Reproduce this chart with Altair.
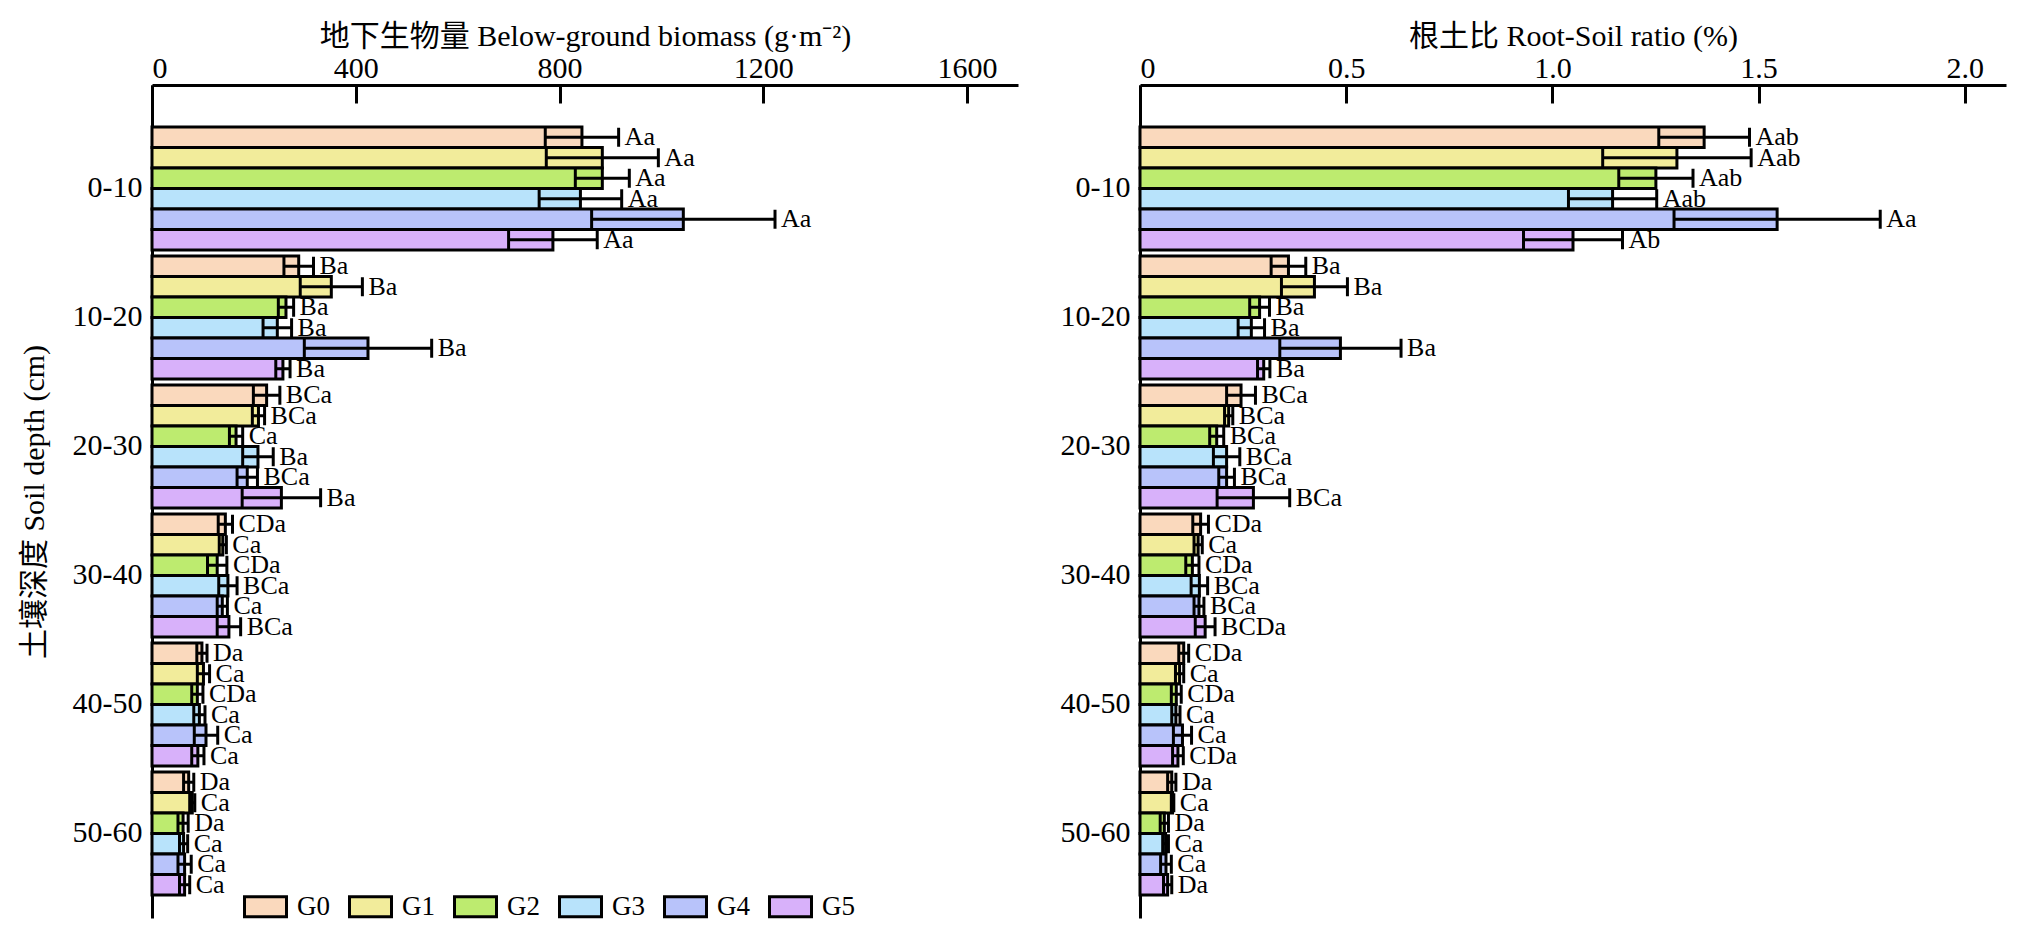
import altair as alt
import pandas as pd

depths = ["0-10", "10-20", "20-30", "30-40", "40-50", "50-60"]
groups = ["G0", "G1", "G2", "G3", "G4", "G5"]
colors = ["#FAD9BD", "#F2EC9B", "#BDEB6F", "#B8E3FB", "#B8C3FA", "#D8B1FA"]

# below-ground biomass (g/m2), one row per depth, one value per group
biomass_mean = [
    [844, 884, 884, 841, 1043, 787],
    [288, 352, 263, 246, 424, 257],
    [225, 209, 165, 208, 187, 254],
    [144, 139, 128, 149, 138, 151],
    [98, 101, 89, 93, 106, 90],
    [72, 79, 61, 62, 64, 64],
]
biomass_se = [
    [72, 110, 53, 81, 180, 87],
    [29, 61, 15, 28, 125, 14],
    [26, 12, 13, 30, 20, 77],
    [14, 7, 19, 18, 10, 23],
    [10, 12, 11, 11, 23, 12],
    [10, 5, 10, 8, 13, 10],
]
biomass_labels = [
    ["Aa", "Aa", "Aa", "Aa", "Aa", "Aa"],
    ["Ba", "Ba", "Ba", "Ba", "Ba", "Ba"],
    ["BCa", "BCa", "Ca", "Ba", "BCa", "Ba"],
    ["CDa", "Ca", "CDa", "BCa", "Ca", "BCa"],
    ["Da", "Ca", "CDa", "Ca", "Ca", "Ca"],
    ["Da", "Ca", "Da", "Ca", "Ca", "Ca"],
]

# root-soil ratio (%)
ratio_mean = [
    [1.368, 1.302, 1.251, 1.146, 1.545, 1.050],
    [0.360, 0.423, 0.290, 0.270, 0.486, 0.300],
    [0.245, 0.215, 0.186, 0.210, 0.210, 0.275],
    [0.147, 0.141, 0.127, 0.144, 0.143, 0.158],
    [0.106, 0.096, 0.088, 0.087, 0.103, 0.092],
    [0.077, 0.079, 0.059, 0.062, 0.063, 0.067],
]
ratio_se = [
    [0.110, 0.180, 0.090, 0.107, 0.250, 0.120],
    [0.042, 0.080, 0.024, 0.032, 0.147, 0.015],
    [0.035, 0.010, 0.017, 0.032, 0.019, 0.088],
    [0.019, 0.010, 0.016, 0.020, 0.012, 0.024],
    [0.012, 0.010, 0.012, 0.010, 0.022, 0.013],
    [0.010, 0.003, 0.010, 0.007, 0.013, 0.010],
]
ratio_labels = [
    ["Aab", "Aab", "Aab", "Aab", "Aa", "Ab"],
    ["Ba", "Ba", "Ba", "Ba", "Ba", "Ba"],
    ["BCa", "BCa", "BCa", "BCa", "BCa", "BCa"],
    ["CDa", "Ca", "CDa", "BCa", "BCa", "BCDa"],
    ["CDa", "Ca", "CDa", "Ca", "Ca", "CDa"],
    ["Da", "Ca", "Da", "Ca", "Ca", "Da"],
]

FONT = "Liberation Serif, Times New Roman, Noto Sans CJK SC"
W, H = 866, 833


def make_frame(means, ses, labels):
    rows = []
    for i, d in enumerate(depths):
        for j, g in enumerate(groups):
            m, s = means[i][j], ses[i][j]
            rows.append({"depth": d, "group": g, "mean": m, "lo": m - s, "hi": m + s, "label": labels[i][j]})
    return pd.DataFrame(rows)


def panel(data, x_title, domain, tick_values, label_expr, y_title, show_legend):
    y_enc = alt.Y(
        "depth:N",
        sort=depths,
        scale=alt.Scale(paddingInner=0.0465, paddingOuter=0.252, align=0.646),
        axis=alt.Axis(
            title=y_title,
            ticks=False,
            labelPadding=10,
            labelFontSize=30,
            titleFontSize=30,
            titleFontWeight="normal",
            titlePadding=23,
            domainColor="black",
            domainWidth=3,
            labelColor="black",
            titleColor="black",
        ),
    )
    y_off = alt.YOffset("group:N", sort=groups, scale=alt.Scale(paddingInner=0, paddingOuter=0))
    x_scale = alt.Scale(domain=domain, nice=False, zero=True)
    # top axis: labels and line only
    x_axis = alt.Axis(
        title=x_title,
        orient="top",
        values=tick_values,
        labelExpr=label_expr,
        ticks=False,
        grid=False,
        labelPadding=2,
        labelFontSize=30,
        titleFontSize=30,
        titleFontWeight="normal",
        titlePadding=2,
        domainColor="black",
        domainWidth=3,
        labelColor="black",
        titleColor="black",
    )
    # inward ticks: a bottom axis pulled up to the top edge
    tick_axis = alt.Axis(
        orient="bottom",
        offset=-H,
        values=tick_values,
        title=None,
        labels=False,
        domain=False,
        grid=False,
        ticks=True,
        tickSize=18,
        tickWidth=3,
        tickColor="black",
    )
    base = alt.Chart(data).encode(y=y_enc, yOffset=y_off)

    legend = None
    if show_legend:
        legend = alt.Legend(
            title=None,
            orient="none",
            legendX=91,
            legendY=799,
            direction="horizontal",
            symbolType="M-1,-0.476H1V0.476H-1Z",
            symbolSize=1764,
            symbolStrokeColor="black",
            symbolStrokeWidth=3,
            symbolOpacity=1,
            labelFontSize=27,
            labelColor="black",
            labelOffset=9,
            columnPadding=13,
        )

    bars = base.mark_bar(stroke="black", strokeWidth=3).encode(
        x=alt.X("mean:Q", stack=None, scale=x_scale, axis=x_axis),
        fill=alt.Fill("group:N", sort=groups, scale=alt.Scale(domain=groups, range=colors), legend=legend),
    )
    rule = base.mark_rule(color="black", strokeWidth=3).encode(
        x=alt.X("lo:Q", scale=x_scale, axis=None), x2="hi:Q"
    )
    lo_tick = base.mark_tick(color="black", size=19, thickness=3, opacity=1).encode(
        x=alt.X("lo:Q", scale=x_scale, axis=tick_axis)
    )
    hi_tick = base.mark_tick(color="black", size=19, thickness=3, opacity=1).encode(
        x=alt.X("hi:Q", scale=x_scale, axis=None)
    )
    text = base.mark_text(align="left", baseline="middle", dx=6, fontSize=26, color="black").encode(
        x=alt.X("hi:Q", scale=x_scale, axis=None), text="label:N"
    )
    return (
        alt.layer(bars, rule, lo_tick, hi_tick, text)
        .resolve_axis(x="independent")
        .properties(width=W, height=H)
    )


biomass_df = make_frame(biomass_mean, biomass_se, biomass_labels)
ratio_df = make_frame(ratio_mean, ratio_se, ratio_labels)

left = panel(
    biomass_df,
    "地下生物量 Below-ground biomass (g·m⁻²)",
    [0, 1700],
    [0, 400, 800, 1200, 1600],
    "format(datum.value, 'd')",
    "土壤深度 Soil depth (cm)",
    True,
)
right = panel(
    ratio_df,
    "根土比 Root-Soil ratio (%)",
    [0, 2.1],
    [0, 0.5, 1.0, 1.5, 2.0],
    "datum.value == 0 ? '0' : format(datum.value, '.1f')",
    None,
    False,
)

chart = (
    alt.hconcat(left, right, spacing=42)
    .resolve_legend(fill="independent")
    .properties(padding={"left": 11, "top": 13, "right": 5, "bottom": 5})
    .configure(font=FONT)
    .configure_view(stroke=None)
)

chart.save("out.html", embed_options={"renderer": "svg", "actions": False})
